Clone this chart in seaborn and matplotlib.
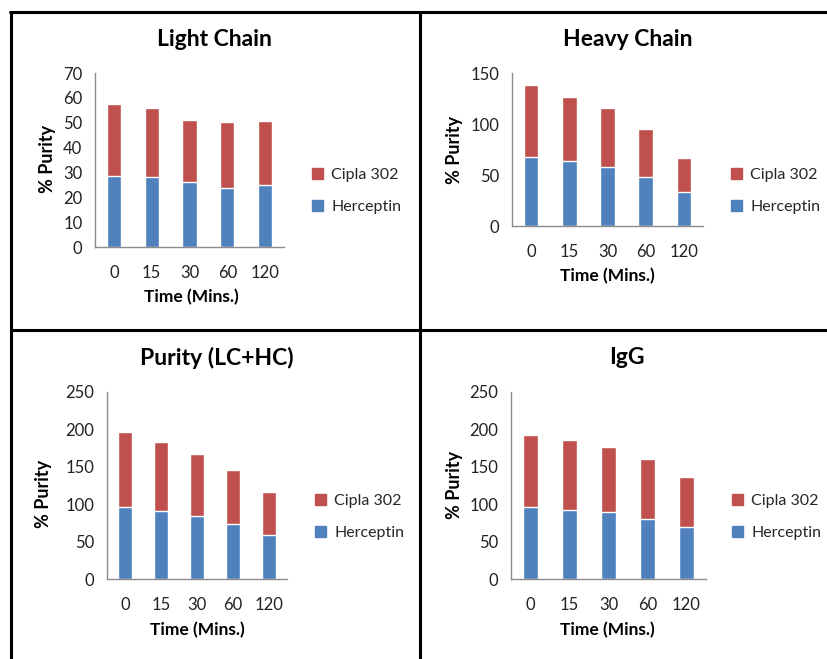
import matplotlib
matplotlib.use("Agg")
import matplotlib.pyplot as plt
import matplotlib.patches as mpatches
from matplotlib.lines import Line2D
import seaborn as sns
import pandas as pd

# data
times = ["0", "15", "30", "60", "120"]

lc_herceptin = [28.7, 28.1, 26.0, 23.8, 24.9]
lc_cipla = [28.9, 27.9, 25.2, 26.3, 25.7]

hc_herceptin = [67.8, 63.9, 57.6, 48.1, 33.7]
hc_cipla = [70.4, 62.5, 58.3, 46.9, 33.1]

pur_herceptin = [96.8, 91.5, 84.0, 73.2, 58.9]
pur_cipla = [99.1, 92.0, 83.4, 72.4, 58.0]

igg_herceptin = [96.8, 92.8, 89.3, 80.8, 69.6]
igg_cipla = [96.1, 92.4, 87.1, 79.5, 67.0]

titles = ["Light Chain", "Heavy Chain", "Purity (LC+HC)", "IgG"]
y_max = [70, 150, 250, 250]
y_step = [10, 50, 50, 50]

RED = "#C0504D"
BLUE = "#4F81BD"

W, H = 827, 659

sns.set_theme(style="white")
plt.rcParams["font.family"] = ["Lato", "DejaVu Sans"]

fig = plt.figure(figsize=(W / 100, H / 100), dpi=100)
fig.patch.set_facecolor("white")


def fx(px):
    return px / W


def fy(py):
    return 1 - py / H


# layout in pixels: axes box (l, t, r, b), title centre, xlabel, ylabel, legend anchor
panels = [
    dict(box=(95, 73, 284, 247), title=(214, 39), xlab=(191, 297), ylab=(47, 159), leg=(312, 191)),
    dict(box=(512, 73, 703, 226), title=(628, 39), xlab=(607, 276), ylab=(454, 150), leg=(731, 191)),
    dict(box=(107, 392, 287, 579), title=(217, 358), xlab=(197, 630), ylab=(43, 494), leg=(315, 517)),
    dict(box=(511, 392, 706, 579), title=(627, 358), xlab=(607, 630), ylab=(454, 485), leg=(732, 517)),
]
series = [
    (lc_herceptin, lc_cipla),
    (hc_herceptin, hc_cipla),
    (pur_herceptin, pur_cipla),
    (igg_herceptin, igg_cipla),
]

for i, p in enumerate(panels):
    l, t, r, b = p["box"]
    ax = fig.add_axes([fx(l), fy(b), (r - l) / W, (b - t) / H])
    herc, cipla = series[i]
    df = pd.DataFrame({
        "time": times,
        "Herceptin": herc,
        "total": [h + c for h, c in zip(herc, cipla)],
    })
    # stacked bars: total in red, herceptin drawn over it in blue
    sns.barplot(data=df, x="time", y="total", color=RED, width=0.38,
                saturation=1, ax=ax)
    sns.barplot(data=df, x="time", y="Herceptin", color=BLUE, width=0.38,
                saturation=1, ax=ax)
    ax.set_ylim(0, y_max[i])
    ax.set_yticks(range(0, y_max[i] + 1, y_step[i]))
    ax.set_xlim(-0.5, 4.5)
    ax.set_xlabel("")
    ax.set_ylabel("")
    ax.tick_params(axis="both", length=0, labelsize=12, colors="#222222")
    ax.tick_params(axis="y", pad=9)
    ax.tick_params(axis="x", pad=13)
    for s in ["top", "right"]:
        ax.spines[s].set_visible(False)
    for s in ["left", "bottom"]:
        ax.spines[s].set_color("#8c8c8c")
        ax.spines[s].set_linewidth(1)

    fig.text(fx(p["title"][0]), fy(p["title"][1]), titles[i], ha="center",
             va="center", fontsize=16.5, fontweight="bold", color="black")
    fig.text(fx(p["xlab"][0]), fy(p["xlab"][1]), "Time (Mins.)", ha="center",
             va="center", fontsize=12.5, fontweight="bold", color="black")
    fig.text(fx(p["ylab"][0]), fy(p["ylab"][1]), "% Purity", ha="center",
             va="center", rotation=90, fontsize=13, fontweight="bold",
             color="black")

    handles = [mpatches.Patch(color=RED, label="Cipla 302"),
               mpatches.Patch(color=BLUE, label="Herceptin")]
    ax.legend(handles=handles, loc="center left",
              bbox_to_anchor=(fx(p["leg"][0]), fy(p["leg"][1])),
              bbox_transform=fig.transFigure, frameon=False, fontsize=11.5,
              handlelength=0.7, handleheight=0.7, handletextpad=0.5,
              labelspacing=1.15, borderpad=0, borderaxespad=0)

# table borders around the four charts
border = dict(color="black", linewidth=2.2, transform=fig.transFigure)
fig.add_artist(Line2D([fx(10), fx(827)], [fy(12), fy(12)], **border))
fig.add_artist(Line2D([fx(11), fx(11)], [fy(12), fy(659)], **border))
fig.add_artist(Line2D([fx(420), fx(420)], [fy(12), fy(659)], **border))
fig.add_artist(Line2D([fx(11), fx(827)], [fy(330), fy(330)], **border))

fig.savefig("out.png", dpi=100)
